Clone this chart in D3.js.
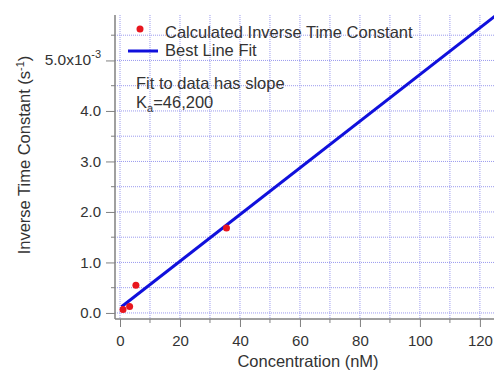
<!DOCTYPE html>
<html>
<head>
<meta charset="utf-8">
<script src="https://cdn.jsdelivr.net/npm/d3@7"></script>
<style>
  body { margin: 0; background: #fff; }
  text { font-family: "Liberation Sans", Arial, sans-serif; fill: #333; }
</style>
</head>
<body>
<div id="chart"></div>
<script>
// Data (y in units of 1e-3 s^-1)
const concentration = [1.0, 3.2, 5.3, 35.5];
const inverseTime = [0.07, 0.13, 0.55, 1.68];
const fitRange = [0.5, 126];
const fitSlope = 0.0462;
const fitIntercept = 0.1;
const yTicks = [0, 1, 2, 3, 4, 5];
const xTicks = [0, 20, 40, 60, 80, 100, 120];

// Dimensions
const width = 494, height = 370;
const plotLeft = 115, plotRight = 494, plotTop = 15, plotBottom = 319;
const gridColor = "#9a9aee";

const svg = d3.select("#chart").append("svg")
    .attr("width", width)
    .attr("height", height);

const x = d3.scaleLinear().domain([-1.67, 124.7]).range([plotLeft, plotRight]);
const y = d3.scaleLinear().domain([-0.12, 5.9]).range([plotBottom, plotTop]);

// Grid (dotted, every minor tick)
const grid = svg.append("g");
grid.selectAll(".vg")
    .data(d3.range(0, 125, 10))
    .enter().append("line")
    .attr("x1", d => x(d)).attr("x2", d => x(d))
    .attr("y1", plotTop).attr("y2", plotBottom)
    .attr("stroke", gridColor)
    .attr("stroke-width", 1)
    .attr("stroke-dasharray", "1,1");
grid.selectAll(".hg")
    .data(d3.range(0, 6, 0.5))
    .enter().append("line")
    .attr("x1", plotLeft).attr("x2", plotRight)
    .attr("y1", d => y(d)).attr("y2", d => y(d))
    .attr("stroke", gridColor)
    .attr("stroke-width", 1)
    .attr("stroke-dasharray", "1,1");

// Axes
const xAxis = svg.append("g")
    .attr("transform", `translate(0,${plotBottom})`)
    .call(d3.axisBottom(x).tickValues(xTicks).tickSize(8).tickPadding(8).tickFormat(d3.format("d")));
xAxis.append("g").selectAll("line")
    .data(d3.range(10, 125, 20))
    .enter().append("line")
    .attr("x1", d => x(d)).attr("x2", d => x(d))
    .attr("y1", 0).attr("y2", 4)
    .attr("stroke", "#808080");

const yAxis = svg.append("g")
    .attr("transform", `translate(${plotLeft},0)`)
    .call(d3.axisLeft(y).tickValues(yTicks).tickSize(9).tickPadding(5).tickFormat(d => d === 5 ? "" : d3.format(".1f")(d)));
yAxis.append("g").selectAll("line")
    .data(d3.range(0.5, 6, 1))
    .enter().append("line")
    .attr("y1", d => y(d)).attr("y2", d => y(d))
    .attr("x1", 0).attr("x2", -4)
    .attr("stroke", "#808080");

[xAxis, yAxis].forEach(a => {
    a.select(".domain").attr("stroke", "#808080").attr("stroke-width", 1.5);
    a.selectAll(".tick line").attr("stroke", "#808080");
    a.selectAll(".tick text").style("font-size", "15px").attr("fill", "#333");
});
xAxis.select(".domain").attr("d", `M${plotLeft},0H${plotRight}`);
yAxis.select(".domain").attr("d", `M0,${plotTop}V${plotBottom}`);

// 5.0x10^-3 label
const lab5 = svg.append("text")
    .attr("x", plotLeft - 14)
    .attr("y", y(5) + 5)
    .attr("text-anchor", "end")
    .style("font-size", "15.5px");
lab5.append("tspan").text("5.0x10");
lab5.append("tspan").attr("dy", -7).style("font-size", "11px").text("-3");

// Fit line
svg.append("clipPath").attr("id", "clip")
    .append("rect").attr("x", plotLeft).attr("y", plotTop - 5)
    .attr("width", plotRight - plotLeft).attr("height", plotBottom - plotTop + 5);
svg.append("line")
    .attr("clip-path", "url(#clip)")
    .attr("x1", x(fitRange[0])).attr("y1", y(fitIntercept + fitSlope * fitRange[0]))
    .attr("x2", x(fitRange[1])).attr("y2", y(fitIntercept + fitSlope * fitRange[1]))
    .attr("stroke", "#1010dc")
    .attr("stroke-width", 3);

// Points
svg.selectAll(".pt")
    .data(concentration)
    .enter().append("circle")
    .attr("cx", d => x(d))
    .attr("cy", (d, i) => y(inverseTime[i]))
    .attr("r", 3.5)
    .attr("fill", "#e8161e");

// Legend
svg.append("circle").attr("cx", 140).attr("cy", 29).attr("r", 3.5).attr("fill", "#e8161e");
svg.append("text").attr("x", 165).attr("y", 38).style("font-size", "16.5px").text("Calculated Inverse Time Constant");
svg.append("line").attr("x1", 128).attr("x2", 158).attr("y1", 51).attr("y2", 51)
    .attr("stroke", "#1010dc").attr("stroke-width", 3);
svg.append("text").attr("x", 165).attr("y", 56).style("font-size", "16.5px").text("Best Line Fit");

// Annotation
svg.append("text").attr("x", 136).attr("y", 89).style("font-size", "16.5px").text("Fit to data has slope");
const ka = svg.append("text").attr("x", 136).attr("y", 108).style("font-size", "16.5px");
ka.append("tspan").text("K");
ka.append("tspan").attr("dy", 4).style("font-size", "11px").text("a");
ka.append("tspan").attr("dy", -4).text("=46,200");

// Axis titles
svg.append("text")
    .attr("x", 308)
    .attr("y", 367)
    .attr("text-anchor", "middle")
    .style("font-size", "16.5px")
    .text("Concentration (nM)");

const yt = svg.append("text")
    .attr("transform", "translate(30,155) rotate(-90)")
    .attr("text-anchor", "middle")
    .style("font-size", "16.5px");
yt.append("tspan").text("Inverse Time Constant (s");
yt.append("tspan").attr("dy", -6).style("font-size", "11px").text("-1");
yt.append("tspan").attr("dy", 6).text(")");
</script>
</body>
</html>
